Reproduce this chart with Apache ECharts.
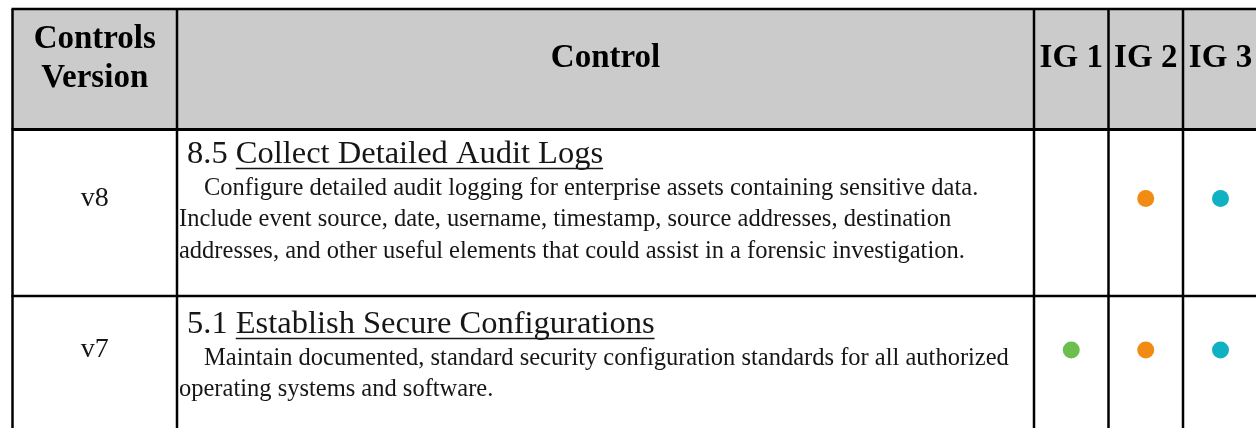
<!DOCTYPE html>
<html><head><meta charset="utf-8">
<script src="https://cdn.jsdelivr.net/npm/echarts@6/dist/echarts.min.js"></script>
<style>html,body{margin:0;padding:0;background:#fff}#c{width:1256px;height:428px}</style>
</head><body><div id="c"></div>
<script>
// ---------------- data ----------------
const headers = ['Controls\nVersion', 'Control', 'IG 1', 'IG 2', 'IG 3'];
const versions = ['v8', 'v7'];
const controlIds = ['8.5', '5.1'];
const controlTitles = ['Collect Detailed Audit Logs', 'Establish Secure Configurations'];
const descriptionLines = [
  ['Configure detailed audit logging for enterprise assets containing sensitive data.',
   'Include event source, date, username, timestamp, source addresses, destination',
   'addresses, and other useful elements that could assist in a forensic investigation.'],
  ['Maintain documented, standard security configuration standards for all authorized',
   'operating systems and software.']
];
const ig1 = [false, true];
const ig2 = [true, true];
const ig3 = [true, true];

// ---------------- layout / style ----------------
const W = 1256, H = 428;
const colEdges = [12.5, 177, 1034, 1108.5, 1183, 1258];
const rowEdges = [9, 129.5, 296, 480];
const rowPad = [0, 5, 8.5];         // extra top offset of text per row
const markMid = [0, 69, 54];        // vertical centre of version label / dots from row top
const igColors = ['#6cbf4d', '#f18b14', '#0fb1c2'];
const FONT = '"Liberation Serif", "DejaVu Serif", serif';
const headSize = 33, titleSize = 32.5, bodySize = 24.5, verSize = 28;
const headerBg = '#cbcbcb';
const lineColor = '#000';
const textColor = '#161616';

const mctx = document.createElement('canvas').getContext('2d');
function textW(t, size, weight) {
  mctx.font = (weight || 'normal') + ' ' + size + 'px ' + FONT;
  return mctx.measureText(t).width;
}
const midK = 0.34; // baseline -> middle offset (em)

const chart = echarts.init(document.getElementById('c'), null, {renderer: 'canvas'});

function renderRow(params, api) {
  const r = api.value(0);
  const p0 = api.coord([colEdges[0], rowEdges[r]]);
  const p1 = api.coord([colEdges[colEdges.length - 1], rowEdges[r + 1]]);
  const top = p0[1], bottom = p1[1];
  const children = [];
  children.push({type: 'rect', shape: {x: p0[0], y: top, width: p1[0] - p0[0], height: bottom - top},
    style: {fill: r === 0 ? headerBg : '#fff'}});
  colEdges.forEach(function (cx) {
    const x = api.coord([cx, 0])[0];
    children.push({type: 'line', shape: {x1: x, y1: top, x2: x, y2: bottom},
      style: {stroke: lineColor, lineWidth: 2.5}});
  });
  children.push({type: 'line', shape: {x1: p0[0] - 1, y1: top, x2: p1[0], y2: top},
    style: {stroke: lineColor, lineWidth: r === 1 ? 3 : 2.5}});
  const cx = function (c) { return (api.coord([colEdges[c], 0])[0] + api.coord([colEdges[c + 1], 0])[0]) / 2; };
  if (r === 0) {
    headers.forEach(function (h, c) {
      children.push({type: 'text', style: {text: h, x: cx(c), y: top + 49.5,
        font: 'bold ' + headSize + 'px ' + FONT, fill: '#000', align: 'center', verticalAlign: 'middle',
        lineHeight: 39}});
    });
  } else {
    const i = r - 1;
    const pad = rowPad[r];
    const mid = top + markMid[r];
    children.push({type: 'text', style: {text: versions[i], x: cx(0), y: mid,
      font: verSize + 'px ' + FONT, fill: textColor, align: 'center', verticalAlign: 'middle'}});
    const left = api.coord([colEdges[1], 0])[0] + 2;
    const titleLeft = left + 8;
    const titleBase = top + pad + 31.5;
    const idText = controlIds[i] + ' ';
    children.push({type: 'text', style: {text: idText, x: titleLeft, y: titleBase - midK * titleSize,
      font: titleSize + 'px ' + FONT, fill: textColor, align: 'left', verticalAlign: 'middle'}});
    const tx = titleLeft + textW(idText, titleSize);
    children.push({type: 'text', style: {text: controlTitles[i], x: tx, y: titleBase - midK * titleSize,
      font: titleSize + 'px ' + FONT, fill: textColor, align: 'left', verticalAlign: 'middle'}});
    const tw = textW(controlTitles[i], titleSize);
    children.push({type: 'line', shape: {x1: tx, y1: titleBase + 2.5, x2: tx + tw, y2: titleBase + 2.5},
      style: {stroke: textColor, lineWidth: 1.6}});
    descriptionLines[i].forEach(function (ln, k) {
      const base = top + pad + 62 + k * 31.5;
      children.push({type: 'text', style: {text: ln, x: left + (k === 0 ? 25 : 0), y: base - midK * bodySize,
        font: bodySize + 'px ' + FONT, fill: textColor, align: 'left', verticalAlign: 'middle'}});
    });
  }
  return {type: 'group', children: children};
}

const dots = [];
[ig1, ig2, ig3].forEach(function (flags, k) {
  flags.forEach(function (on, i) {
    if (on) {
      const r = i + 1;
      dots.push({value: [(colEdges[k + 2] + colEdges[k + 3]) / 2, rowEdges[r] + markMid[r]],
        itemStyle: {color: igColors[k], opacity: 1}});
    }
  });
});

chart.setOption({
  animation: false,
  grid: {left: 0, right: 0, top: 0, bottom: 0},
  xAxis: {type: 'value', min: 0, max: W, show: false},
  yAxis: {type: 'value', min: 0, max: H, inverse: true, show: false},
  series: [
    {type: 'custom', renderItem: renderRow, clip: true, z: 1,
      data: [[0, 0], [1, 0], [2, 0]]},
    {type: 'scatter', data: dots, symbol: 'circle', symbolSize: 17, z: 5, silent: true,
      itemStyle: {opacity: 1}, emphasis: {disabled: true}}
  ]
});
</script>
</body></html>
